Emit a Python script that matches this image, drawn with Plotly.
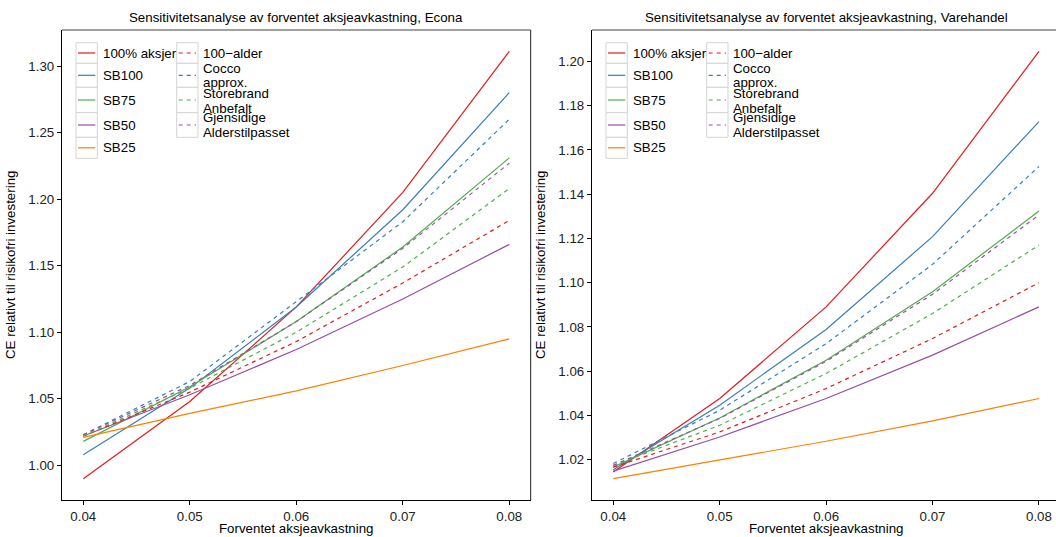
import plotly.graph_objects as go

W, H = 1056, 537
FONT = "Liberation Sans, Arial, Helvetica, sans-serif"
FS = 13.3

# Expected equity return levels
forventet_avkastning = [0.04, 0.05, 0.06, 0.07, 0.08]

series_names = [
    "100% aksjer", "SB100", "SB75", "SB50", "SB25",
    "100\u2212alder", "Cocco approx.", "Storebrand Anbefalt", "Gjensidige Alderstilpasset",
]

# CE relative to risk-free investment, Econa
econa_aksjer100 = [0.990, 1.048, 1.119, 1.205, 1.311]
econa_sb100 = [1.008, 1.058, 1.119, 1.192, 1.280]
econa_sb75 = [1.018, 1.059, 1.108, 1.164, 1.231]
econa_sb50 = [1.022, 1.053, 1.087, 1.125, 1.166]
econa_sb25 = [1.021, 1.039, 1.056, 1.075, 1.095]
econa_alder100 = [1.022, 1.055, 1.093, 1.137, 1.184]
econa_cocco = [1.023, 1.063, 1.123, 1.183, 1.260]
econa_storebrand = [1.022, 1.058, 1.100, 1.149, 1.208]
econa_gjensidige = [1.023, 1.060, 1.108, 1.163, 1.227]

# CE relative to risk-free investment, Varehandel
vare_aksjer100 = [1.0145, 1.0477, 1.0891, 1.1404, 1.2045]
vare_sb100 = [1.0155, 1.0447, 1.0789, 1.1208, 1.1728]
vare_sb75 = [1.0167, 1.0389, 1.0650, 1.0959, 1.1324]
vare_sb50 = [1.0149, 1.0303, 1.0477, 1.0673, 1.0891]
vare_sb25 = [1.0115, 1.0198, 1.0284, 1.0376, 1.0477]
vare_alder100 = [1.0167, 1.0326, 1.0522, 1.0748, 1.1000]
vare_cocco = [1.0183, 1.0424, 1.0725, 1.1083, 1.1525]
vare_storebrand = [1.0175, 1.0356, 1.0590, 1.0861, 1.1170]
vare_gjensidige = [1.0175, 1.0387, 1.0645, 1.0948, 1.1306]

colors = ["#E41A1C", "#377EB8", "#4DAF4A", "#984EA3", "#FF7F00",
          "#E41A1C", "#377EB8", "#4DAF4A", "#984EA3"]
dashes = ["solid"] * 5 + ["4px,4px"] * 4

y_ticks_econa = [1.00, 1.05, 1.10, 1.15, 1.20, 1.25, 1.30]
y_ticks_vare = [1.02, 1.04, 1.06, 1.08, 1.10, 1.12, 1.14, 1.16, 1.18, 1.20]
x_ticks = [0.04, 0.05, 0.06, 0.07, 0.08]

panels = [
    dict(title="Sensitivitetsanalyse av forventet aksjeavkastning, Econa",
         series=[econa_aksjer100, econa_sb100, econa_sb75, econa_sb50, econa_sb25,
                 econa_alder100, econa_cocco, econa_storebrand, econa_gjensidige],
         yticks=y_ticks_econa, left=62.0, right=530.6, xr=(0.038, 0.082)),
    dict(title="Sensitivitetsanalyse av forventet aksjeavkastning, Varehandel",
         series=[vare_aksjer100, vare_sb100, vare_sb75, vare_sb50, vare_sb25,
                 vare_alder100, vare_cocco, vare_storebrand, vare_gjensidige],
         yticks=y_ticks_vare, left=592.0, right=1056.0, xr=(0.038, 0.0816)),
]

BOX_TOP, BOX_BOTTOM = 30.0, 500.0
BOX_WIDTH = 468.6


def px(x):
    return x / W


def py(y):
    return 1 - y / H


def text(t, x, y, anchor="center", angle=0):
    return dict(text=t, x=px(x), y=py(y), xref="paper", yref="paper",
                showarrow=False, xanchor=anchor, yanchor="middle", textangle=angle,
                font=dict(family=FONT, size=FS, color="#000"))


fig = go.Figure()
shapes = []
annotations = []
layout_axes = {}

for i, p in enumerate(panels):
    n = "" if i == 0 else str(i + 1)
    xa, ya = "x" + n, "y" + n
    for name, vals, c, d in zip(series_names, p["series"], colors, dashes):
        fig.add_trace(go.Scatter(
            x=forventet_avkastning, y=vals, mode="lines", name=name,
            line=dict(color=c, width=1.2, dash=d),
            xaxis=xa, yaxis=ya, showlegend=False, hoverinfo="skip"))

    allv = [v for s in p["series"] for v in s]
    lo, hi = min(allv), max(allv)
    pad = (hi - lo) * 0.05

    axis_style = dict(showgrid=False, zeroline=False, showline=True, linecolor="#000",
                      linewidth=1.2, ticks="outside", ticklen=4, tickcolor="#000",
                      tickformat=".2f", tickfont=dict(family=FONT, size=FS, color="#222"))
    layout_axes["xaxis" + n] = dict(
        domain=[px(p["left"]), px(p["right"])], range=list(p["xr"]),
        anchor=ya, tickvals=x_ticks, **axis_style)
    layout_axes["yaxis" + n] = dict(
        domain=[py(BOX_BOTTOM), py(BOX_TOP)], range=[lo - pad, hi + pad],
        anchor=xa, tickvals=p["yticks"], **axis_style)

    L, R = p["left"], p["right"]
    # top and right border of the panel box
    shapes.append(dict(type="line", xref="paper", yref="paper",
                       x0=px(L), x1=px(R), y0=py(BOX_TOP), y1=py(BOX_TOP),
                       line=dict(color="#444", width=1.2)))
    if R < W:
        shapes.append(dict(type="line", xref="paper", yref="paper",
                           x0=px(R), x1=px(R), y0=py(BOX_TOP), y1=py(BOX_BOTTOM),
                           line=dict(color="#444", width=1.2)))

    cx = L + BOX_WIDTH / 2
    annotations.append(text(p["title"], cx, 18))
    annotations.append(text("Forventet aksjeavkastning", cx, 528))
    annotations.append(text("CE relativt til risikofri investering", L - 52,
                            (BOX_TOP + BOX_BOTTOM) / 2, angle=-90))

    # legend: two columns of keyed entries
    bounds = [42.7, 63.3, 87.3, 112.7, 137.3, 158.3]
    cols = [(L + 14, 5, 0), (L + 114.7, 4, 5)]
    for kx, count, offset in cols:
        for r in range(count):
            y0, y1 = bounds[r], bounds[r + 1]
            shapes.append(dict(type="rect", xref="paper", yref="paper",
                               x0=px(kx), x1=px(kx + 21.3), y0=py(y1), y1=py(y0),
                               line=dict(color="#D4D4D4", width=1), fillcolor="white"))
            k = offset + r
            yc = (y0 + y1) / 2
            shapes.append(dict(type="line", xref="paper", yref="paper",
                               x0=px(kx + 2), x1=px(kx + 19.3), y0=py(yc), y1=py(yc),
                               line=dict(color=colors[k], width=1.2,
                                         dash="4px,4px" if k >= 5 else "solid")))
    col1_text = [(series_names[0], 53.3), (series_names[1], 76.0), (series_names[2], 100.7),
                 (series_names[3], 125.0), (series_names[4], 147.3)]
    col2_text = [("100\u2212alder", 53.3), ("Cocco", 68.3), ("approx.", 82.7),
                 ("Storebrand", 93.3), ("Anbefalt", 108.3),
                 ("Gjensidige", 117.3), ("Alderstilpasset", 132.3)]
    for t, yy in col1_text:
        annotations.append(text(t, L + 38.5, yy, anchor="left"))
    for t, yy in col2_text:
        annotations.append(text(t, L + 138.5, yy, anchor="left"))

fig.update_layout(
    width=W, height=H, margin=dict(l=0, r=0, t=0, b=0),
    paper_bgcolor="white", plot_bgcolor="white",
    shapes=shapes, annotations=annotations, **layout_axes)

fig.write_html("out.html")
